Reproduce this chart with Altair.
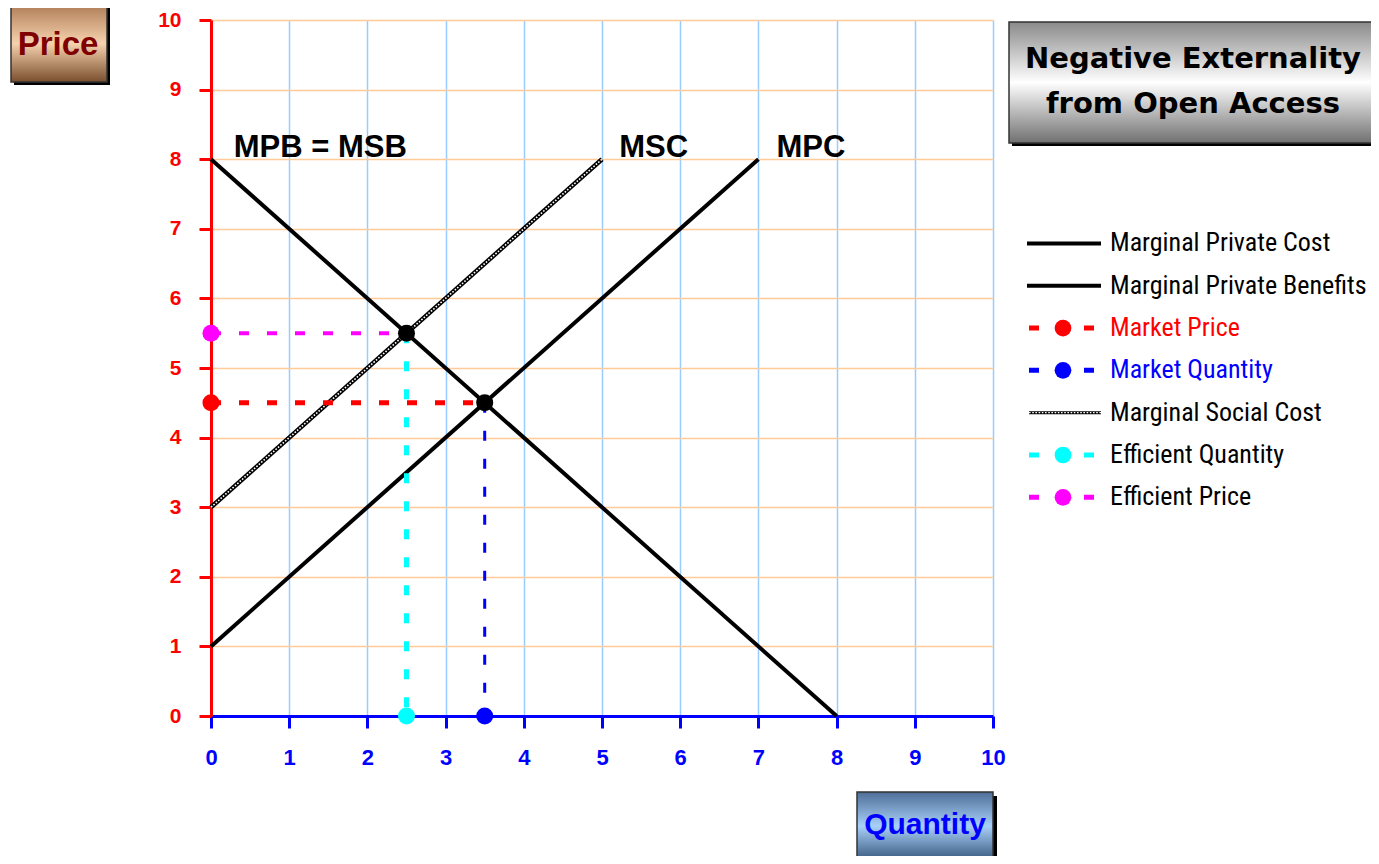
import altair as alt
import pandas as pd

# ---------------- data ----------------
mpc_q = [0, 7]
mpc_p = [1, 8]
mpb_q = [0, 8]
mpb_p = [8, 0]
msc_q = [0, 5]
msc_p = [3, 8]
mkt_price_q = [0, 3.5]
mkt_price_p = [4.5, 4.5]
mkt_qty_q = [3.5, 3.5]
mkt_qty_p = [4.5, 0]
eff_qty_q = [2.5, 2.5]
eff_qty_p = [5.5, 0]
eff_price_q = [0, 2.5]
eff_price_p = [5.5, 5.5]
eq_q = [2.5, 3.5]
eq_p = [5.5, 4.5]
tick_values = list(range(0, 11))

legend_names = ["Marginal Private Cost", "Marginal Private Benefits", "Market Price",
                "Market Quantity", "Marginal Social Cost", "Efficient Quantity", "Efficient Price"]
legend_colors = ["#000000", "#000000", "#FF0000", "#0000FF", "#000000", "#00FFFF", "#FF00FF"]
legend_text_colors = ["#000000", "#000000", "#FF0000", "#0000FF", "#000000", "#000000", "#000000"]
legend_kind = ["solid", "solid", "marker", "marker", "msc", "marker", "marker"]

curve_labels = ["MPB = MSB", "MSC", "MPC"]
curve_label_q = [0.29, 5.22, 7.23]
curve_label_p = [8.03, 8.03, 8.03]

FONT = "Liberation Sans"
WIDE = "DejaVu Sans"
NARROW = "Liberation Sans Narrow, Arial Narrow, Roboto Condensed, Liberation Sans"

def df(q, p):
    return pd.DataFrame({"q": q, "p": p})

xs = alt.Scale(domain=[0, 10], nice=False)
ys = alt.Scale(domain=[0, 10], nice=False)

x_axis = alt.Axis(values=tick_values, format="d", title=None, grid=True,
                  gridColor="#99CCFF", gridWidth=1.5,
                  domainColor="#0000FF", domainWidth=3,
                  tickColor="#0000FF", tickWidth=3, tickSize=12,
                  labelColor="#0000FF", labelFont=FONT, labelFontWeight="bold",
                  labelFontSize=22, labelPadding=19, labelFlush=False)
y_axis = alt.Axis(values=tick_values, format="d", title=None, grid=True,
                  gridColor="#FFCC99", gridWidth=1.5,
                  domainColor="#FF0000", domainWidth=3,
                  tickColor="#FF0000", tickWidth=3, tickSize=12,
                  labelColor="#FF0000", labelFont=FONT, labelFontWeight="bold",
                  labelFontSize=21, labelPadding=18, labelFlush=False)

def X(field="q"):
    return alt.X(f"{field}:Q", scale=xs, axis=x_axis, title=None)

def Y(field="p"):
    return alt.Y(f"{field}:Q", scale=ys, axis=y_axis, title=None)

layers = []

# MSC textured line
msc = df(msc_q, msc_p)
layers.append(alt.Chart(msc).mark_line(color="#000000", strokeWidth=4.5).encode(x=X(), y=Y()))
layers.append(alt.Chart(msc).mark_line(color="#FFFFFF", strokeWidth=1.6, strokeDash=[1.6, 1.6]).encode(x=X(), y=Y()))

# MPC and MPB
layers.append(alt.Chart(df(mpc_q, mpc_p)).mark_line(color="#000000", strokeWidth=4).encode(x=X(), y=Y()))
layers.append(alt.Chart(df(mpb_q, mpb_p)).mark_line(color="#000000", strokeWidth=4).encode(x=X(), y=Y()))

# dashed guide lines
layers.append(alt.Chart(df(eff_price_q, eff_price_p)).mark_line(color="#FF00FF", strokeWidth=4, strokeDash=[10, 18]).encode(x=X(), y=Y()))
layers.append(alt.Chart(df(mkt_price_q, mkt_price_p)).mark_line(color="#FF0000", strokeWidth=5, strokeDash=[10, 18]).encode(x=X(), y=Y()))
layers.append(alt.Chart(df(eff_qty_q, eff_qty_p)).mark_line(color="#00FFFF", strokeWidth=5, strokeDash=[10, 18]).encode(x=X(), y=Y()))
layers.append(alt.Chart(df(mkt_qty_q, mkt_qty_p)).mark_line(color="#0000FF", strokeWidth=3, strokeDash=[10, 18]).encode(x=X(), y=Y()))

# markers
pts = pd.DataFrame({
    "q": [mkt_price_q[0], mkt_qty_q[1], eff_qty_q[1], eff_price_q[0], eq_q[0], eq_q[1]],
    "p": [mkt_price_p[0], mkt_qty_p[1], eff_qty_p[1], eff_price_p[0], eq_p[0], eq_p[1]],
    "c": ["#FF0000", "#0000FF", "#00FFFF", "#FF00FF", "#000000", "#000000"],
})
layers.append(alt.Chart(pts).mark_circle(size=290, opacity=1).encode(
    x=X(), y=Y(), color=alt.Color("c:N", scale=None)))

# curve labels
cl = pd.DataFrame({"q": curve_label_q, "p": curve_label_p, "t": curve_labels})
layers.append(alt.Chart(cl).mark_text(align="left", baseline="alphabetic", font=FONT,
                                      fontWeight="bold", fontSize=31, color="#000000").encode(
    x=X(), y=Y(), text="t:N"))

# ---------------- legend (manual) ----------------
leg = pd.DataFrame({"i": list(range(len(legend_names))), "name": legend_names,
                    "col": legend_colors, "tcol": legend_text_colors, "kind": legend_kind})
leg_base = alt.Chart(leg).transform_calculate(ly="6.79 - 0.608 * datum.i")
LY = Y("ly")

layers.append(leg_base.transform_filter("datum.kind == 'solid'").mark_rule(strokeWidth=4).encode(
    x=alt.value(816), x2=alt.value(890), y=LY, color=alt.Color("col:N", scale=None)))
layers.append(leg_base.transform_filter("datum.kind == 'msc'").mark_rule(strokeWidth=3, color="#000000").encode(
    x=alt.value(818), x2=alt.value(890), y=LY))
layers.append(leg_base.transform_filter("datum.kind == 'msc'").mark_rule(strokeWidth=1.2, color="#FFFFFF", strokeDash=[1.6, 1.6]).encode(
    x=alt.value(818), x2=alt.value(890), y=LY))
layers.append(leg_base.transform_filter("datum.kind == 'marker'").mark_rule(strokeWidth=5, strokeDash=[10, 45]).encode(
    x=alt.value(818), x2=alt.value(884), y=LY, color=alt.Color("col:N", scale=None)))
layers.append(leg_base.transform_filter("datum.kind == 'marker'").mark_circle(size=280, opacity=1).encode(
    x=alt.value(852), y=LY, color=alt.Color("col:N", scale=None)))
layers.append(leg_base.mark_text(align="left", baseline="middle", font=NARROW, fontSize=26).encode(
    x=alt.value(899), y=LY, text="name:N", color=alt.Color("tcol:N", scale=None)))

# ---------------- annotation boxes ----------------
one = pd.DataFrame({"a": [0]})

def grad(c_top, c_mid, c_bot):
    return alt.LinearGradient(gradient="linear", x1=0, x2=0, y1=0, y2=1,
                              stops=[alt.GradientStop(offset=0, color=c_top),
                                     alt.GradientStop(offset=0.5, color=c_mid),
                                     alt.GradientStop(offset=1, color=c_bot)])

def box(x1, y1, x2, y2, fill, shadow=4):
    s = alt.Chart(one).mark_rect(color="#000000").encode(
        x=alt.value(x1 + shadow), x2=alt.value(x2 + shadow),
        y=alt.value(y1 + shadow), y2=alt.value(y2 + shadow))
    b = alt.Chart(one).mark_rect(fill=fill, stroke="#333333", strokeWidth=1.5).encode(
        x=alt.value(x1), x2=alt.value(x2), y=alt.value(y1), y2=alt.value(y2))
    return [s, b]

def label(txt, x, y, color, size, font=FONT):
    return alt.Chart(one).mark_text(text=txt, align="center", baseline="alphabetic", font=font,
                                    fontWeight="bold", fontSize=size, color=color).encode(
        x=alt.value(x), y=alt.value(y))

layers += box(-200, -15, -104, 62, grad("#B07E58", "#F6D2AE", "#7A4E2E"), shadow=3)
layers.append(label("Price", -153, 35, "#800000", 33))

layers += box(646, 772, 782, 840, grad("#4E6E98", "#A8D0F8", "#3A5A80"), shadow=4)
layers.append(label("Quantity", 714, 814, "#0000FF", 30))

layers += box(798, 2, 1180, 123, grad("#8A8A8A", "#FFFFFF", "#707070"), shadow=3)
layers.append(label("Negative Externality", 982, 48, "#000000", 29, WIDE))
layers.append(label("from Open Access", 982, 93, "#000000", 29, WIDE))

chart = alt.layer(*layers).properties(
    width=782, height=696,
    autosize=alt.AutoSizeParams(type="none"),
    padding={"left": 203, "top": 12, "right": 378, "bottom": 140},
    background="#FFFFFF",
).configure_view(stroke=None)

chart.save("out.html", embed_options={"renderer": "svg", "actions": False})
